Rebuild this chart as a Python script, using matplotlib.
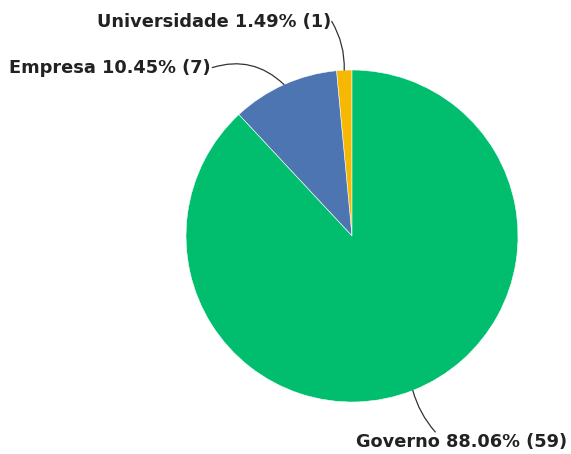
import numpy as np
import matplotlib.pyplot as plt

# Origem das instituições
categorias = ["Universidade", "Empresa", "Governo"]
contagens = [1, 7, 59]
cores = ["#F6B800", "#4C75B2", "#00BE6E"]

plt.rcParams["font.family"] = ["DejaVu Sans"]

fig = plt.figure(figsize=(5.71, 4.54), dpi=100)
W, H = 571, 454
cx, cy, r = 352, 236, 166
ax = fig.add_axes([(cx - r) / W, (H - cy - r) / H, 2 * r / W, 2 * r / H])

wedges, _ = ax.pie(contagens, colors=cores, startangle=90, counterclock=True,
                   radius=1, wedgeprops=dict(edgecolor="white", linewidth=0.4))
ax.set_xlim(-1, 1)
ax.set_ylim(-1, 1)
ax.set_aspect("equal")
ax.axis("off")

total = sum(contagens)


def px(x, y):
    # pixel da figura -> coordenadas dos dados do eixo
    return ((x - cx) / r, (cy - y) / r)


# posição do texto, alinhamento, ponto de partida da linha e curvatura
rotulos = {
    "Universidade": (px(331, 22), "right", "center", (1.0, 0.6), -0.15),
    "Empresa": (px(211, 68), "right", "center", (1.0, 0.5), -0.3),
    "Governo": (px(356, 442), "left", "center", (0.38, 1.0), -0.12),
}

for w, nome, n in zip(wedges, categorias, contagens):
    ang = np.deg2rad((w.theta1 + w.theta2) / 2)
    xy = (np.cos(ang), np.sin(ang))
    pos, ha, va, rel, rad = rotulos[nome]
    ax.annotate(f"{nome} {100 * n / total:.2f}% ({n})", xy=xy, xytext=pos,
                ha=ha, va=va, fontsize=12.8, fontweight="bold", color="#222222",
                annotation_clip=False,
                arrowprops=dict(arrowstyle="-", color="#333333", lw=0.9,
                                relpos=rel, patchA=None, shrinkA=1, shrinkB=0,
                                connectionstyle=f"arc3,rad={rad}"))

fig.savefig("out.png", dpi=100)
